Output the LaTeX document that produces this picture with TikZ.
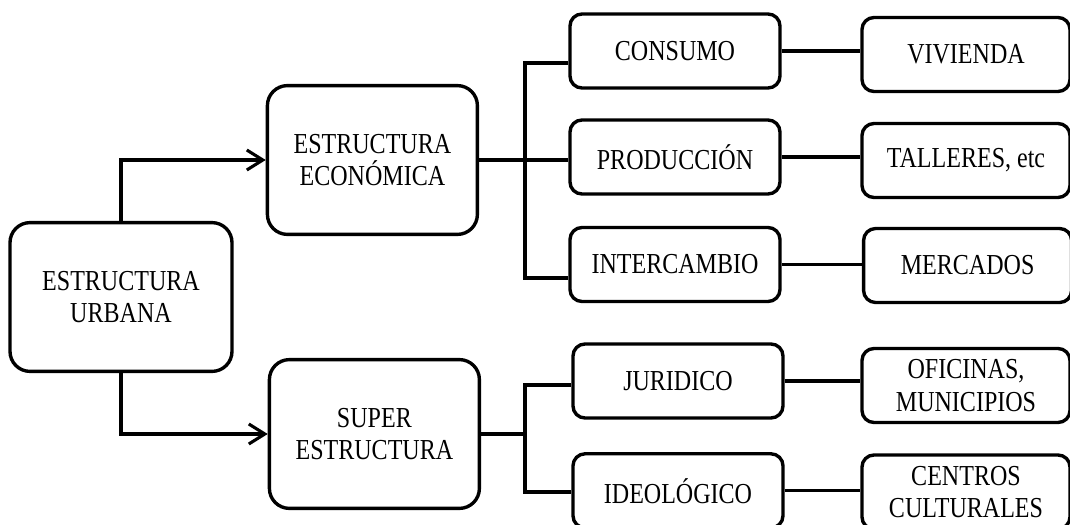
\documentclass[tikz,border=0pt]{standalone}
\usepackage{fontspec}
\setmainfont{Liberation Serif}[FakeStretch=0.83]
\usetikzlibrary{positioning, arrows.meta, calc}

\begin{document}
\begin{tikzpicture}[every node/.style={draw, line width=2.4pt, rounded corners=0.3cm, align=center, inner sep=0pt, font=\fontsize{20.6}{23}\selectfont},
  bigbox/.style={minimum width=5.25cm, minimum height=3.72cm, rounded corners=0.5cm},
  smallbox/.style={minimum width=5.25cm, minimum height=1.85cm},
  link/.style={line width=2.2pt},
  flecha/.style={line width=2.2pt, -{Straight Barb[length=4mm, width=5mm, line width=2.2pt]}}]

\useasboundingbox (0,0) rectangle (26.75,-13.1);

% Left: main box and the two structures
\node[bigbox, minimum width=5.55cm] (urbana) at (3.025,-7.425) {ESTRUCTURA\\URBANA};
\node[bigbox] (economica) at (9.31,-4.0) {ESTRUCTURA\\ECONÓMICA};
\node[bigbox] (superest) at (9.36,-10.85) {SUPER\\ESTRUCTURA};

% Arrows from urbana
\draw[flecha] (urbana.north) |- (economica.west);
\draw[flecha] (urbana.south) |- (superest.west);

% Middle column
\node[smallbox] (consumo) at (16.875,-1.275) {CONSUMO};
\node[smallbox] (produccion) at (16.875,-3.925) {PRODUCCIÓN};
\node[smallbox] (intercambio) at (16.875,-6.6125) {INTERCAMBIO};
\node[smallbox] (juridico) at (16.95,-9.525) {JURIDICO};
\node[smallbox] (ideologico) at (16.95,-12.27) {IDEOLÓGICO};

% Right column
\node[smallbox, minimum width=5.2cm] (vivienda) at (24.15,-1.3625) {VIVIENDA};
\node[smallbox, minimum width=5.2cm] (talleres) at (24.15,-4.0125) {TALLERES, etc};
\node[smallbox, minimum width=5.2cm] (mercados) at (24.19,-6.6375) {MERCADOS};
\node[smallbox, minimum width=5.2cm] (oficinas) at (24.15,-9.6375) {OFICINAS,\\MUNICIPIOS};
\node[smallbox, minimum width=5.2cm] (centros) at (24.15,-12.3) {CENTROS\\CULTURALES};

% Brackets
\coordinate (ea) at (13.125,-1.575);
\coordinate (eb) at (13.125,-6.95);
\coordinate (sa) at (13.125,-9.625);
\coordinate (sb) at (13.125,-12.3);

\draw[link] (ea -| consumo.west) -- (ea) -- (eb) -- (eb -| intercambio.west);
\draw[link] (economica.east) -- (economica.east -| produccion.west);
\draw[link] (sa -| juridico.west) -- (sa) -- (sb) -- (sb -| ideologico.west);
\draw[link] (superest.east) -- (superest.east -| sa);

% Second level links
\draw[link] (consumo.east) -- (consumo.east -| vivienda.west);
\draw[link] (produccion.east) -- (produccion.east -| talleres.west);
\draw[link] (intercambio.east) -- (intercambio.east -| mercados.west);
\draw[link] (juridico.east) -- (juridico.east -| oficinas.west);
\draw[link] (ideologico.east) -- (ideologico.east -| centros.west);

\end{tikzpicture}
\end{document}
